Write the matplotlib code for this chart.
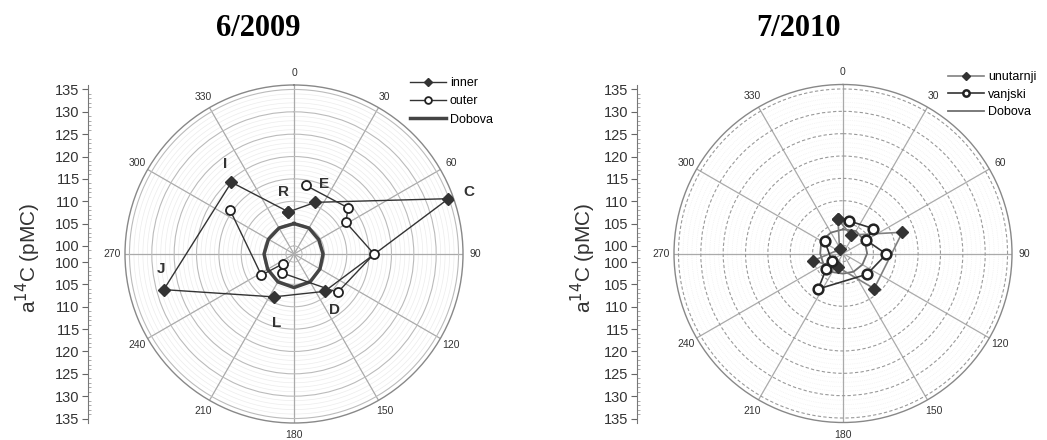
import numpy as np
import matplotlib
matplotlib.use("Agg")
import matplotlib.pyplot as plt

plt.rcParams['font.family'] = ['Liberation Sans', 'DejaVu Sans']

# ---- data (angle in degrees, a14C in pMC) ----
sites_inner = ['R', 'E', 'C', 'D', 'L', 'J', 'I']

theta_inner_2009 = [352.5, 22.4, 70.3, 140.7, 205.2, 254.7, 318.9]
inner_2009 = [107.7, 110.7, 134.9, 109.0, 108.8, 128.4, 119.5]
theta_outer_2009 = [9.5, 49.5, 58.6, 90.0, 131.3, 211.7, 228.5, 237.0, 304.4]
outer_2009 = [113.8, 114.1, 111.8, 116.1, 111.2, 103.2, 101.5, 106.9, 115.5]

theta_inner_2010 = [351.7, 23.6, 70.3, 138.4, 199.7, 256.3, 320.0]
inner_2010 = [105.9, 102.7, 112.3, 108.7, 101.5, 105.1, 99.4]
theta_outer_2010 = [11.0, 50.8, 60.3, 90.9, 130.7, 215.0, 227.3, 236.3, 304.0]
outer_2010 = [105.6, 107.0, 104.2, 107.9, 105.3, 107.9, 103.3, 101.2, 103.1]

theta_dobova = [0, 30, 60, 90, 120, 150, 180, 210, 240, 270, 300, 330]
dobova_2009 = [105.0, 104.9, 104.6, 104.7, 104.9, 105.4, 105.7, 105.4, 105.0, 104.9, 104.8, 104.9]
dobova_2010 = [103.6, 104.0, 103.8, 103.6, 103.2, 102.9, 102.7, 103.0, 103.2, 103.3, 103.8, 103.6]

# label offsets (pixels) for site letters on 2009 chart
label_offsets = [(-5, 20), (9, 18), (20, 7), (10, -19), (3, -26), (-3, 21), (-6, 18)]

scale_ticks = [100, 105, 110, 115, 120, 125, 130, 135]
angle_ticks = list(range(0, 360, 30))

R0, RMAX = 98.2, 136.0
W, H = 1047, 440


def rect(x0, y0, x1, y1):
    return [x0 / W, 1 - y1 / H, (x1 - x0) / W, (y1 - y0) / H]


def closed(t, r):
    return list(t) + [t[0]], list(r) + [r[0]]


def setup_polar(ax, dashed):
    ax.set_theta_zero_location('N')
    ax.set_theta_direction(-1)
    ax.set_ylim(R0, RMAX)
    ax.set_yticks(scale_ticks)
    ax.set_yticklabels([])
    ax.set_xticks(np.deg2rad(angle_ticks))
    ax.set_xticklabels([str(a) for a in angle_ticks], fontsize=7.5, color='#333333')
    ax.set_xticks(np.deg2rad([a for a in range(0, 360, 10) if a % 30]), minor=True)
    ax.tick_params(axis='x', which='major', pad=2, length=0)
    ax.tick_params(axis='x', which='minor', length=4, direction='in', color='#999999', width=0.8)
    ax.xaxis.grid(True, color='#aaaaaa', lw=0.9, ls='-')
    if dashed:
        ax.yaxis.grid(True, color='#9a9a9a', lw=0.8, ls=(0, (3, 2)))
    else:
        ax.yaxis.grid(True, color='#bbbbbb', lw=0.8, ls='-')
    # faint minor circles
    tt = np.linspace(0, 2 * np.pi, 361)
    for v in range(99, 136):
        if v % 5:
            ax.plot(tt, np.full_like(tt, v), color='#ececec', lw=0.5,
                    ls=':' if dashed else '-', zorder=0.5)
    ax.spines['polar'].set_color('#888888')
    ax.spines['polar'].set_linewidth(1.0)


def setup_scale(x):
    sa = fig.add_axes(rect(x, 85, x + 10, 423))
    sa.set_ylim(-(RMAX - R0), RMAX - R0)
    pos = [v - R0 for v in scale_ticks] + [-(v - R0) for v in scale_ticks]
    sa.set_yticks(pos)
    sa.set_yticklabels([str(v) for v in scale_ticks] * 2, fontsize=10.5, color='#333333')
    minor = [v - R0 for v in range(99, 136)] + [-(v - R0) for v in range(99, 136)]
    sa.set_yticks(minor, minor=True)
    sa.tick_params(axis='y', which='major', direction='out', length=4, width=0.8,
                   color='#666666', pad=2)
    sa.tick_params(axis='y', which='minor', direction='in', length=2.5, width=0.5,
                   color='#888888')
    sa.set_xticks([])
    for s in ['top', 'right', 'bottom']:
        sa.spines[s].set_visible(False)
    sa.spines['left'].set_color('#777777')
    sa.spines['left'].set_linewidth(0.8)
    sa.patch.set_alpha(0)


fig = plt.figure(figsize=(W / 100, H / 100), dpi=100)

# ---------- 6/2009 ----------
ax1 = fig.add_axes(rect(125, 85, 463, 423), projection='polar')
setup_polar(ax1, dashed=False)
t, r = closed(np.deg2rad(theta_inner_2009), inner_2009)
l1, = ax1.plot(t, r, color='#333333', lw=1.0, marker='D', ms=6, mfc='#333333',
               mec='#333333', zorder=4, label='inner')
l2, = ax1.plot(np.deg2rad(theta_outer_2009), outer_2009, color='#333333', lw=1.0,
               marker='o', ms=6.5, mfc='white', mec='#222222', mew=1.3, zorder=5,
               label='outer')
t, r = closed(np.deg2rad(theta_dobova), dobova_2009)
l3, = ax1.plot(t, r, color='#444444', lw=2.5, zorder=3, label='Dobova')
for name, th, rv, off in zip(sites_inner, theta_inner_2009, inner_2009, label_offsets):
    ax1.annotate(name, (np.deg2rad(th), rv), xytext=off, textcoords='offset pixels',
                 ha='center', va='center', fontsize=11, fontweight='bold', color='#333333')
ax1.legend(handles=[l1, l2, l3], loc='upper left', bbox_to_anchor=(410 / W, 1 - 77 / H),
           bbox_transform=fig.transFigure, frameon=False, fontsize=9, handlelength=2.9,
           handletextpad=0.3, labelspacing=0.5, borderpad=0, borderaxespad=0,
           markerscale=0.75)

setup_scale(88)
fig.text(28 / W, 1 - 258 / H, r'a$^{14}$C (pMC)', rotation=90, ha='center', va='center',
         fontsize=15, color='#333333')
fig.text(258 / W, 1 - 29 / H, '6/2009', ha='center', va='center', fontsize=22,
         fontweight='bold', family='Liberation Serif')

# ---------- 7/2010 ----------
ax2 = fig.add_axes(rect(674, 84.5, 1012, 422.5), projection='polar')
setup_polar(ax2, dashed=True)
t, r = closed(np.deg2rad(theta_inner_2010), inner_2010)
m1, = ax2.plot(t, r, color='#808080', lw=1.2, marker='D', ms=6.5, mfc='#333333',
               mec='#333333', zorder=4, label='unutarnji')
m2, = ax2.plot(np.deg2rad(theta_outer_2010), outer_2010, color='#333333', lw=1.2,
               marker='o', ms=7, mfc='white', mec='#222222', mew=1.8, zorder=5,
               label='vanjski')
t, r = closed(np.deg2rad(theta_dobova), dobova_2010)
m3, = ax2.plot(t, r, color='#707070', lw=1.3, zorder=3, label='Dobova')
ax2.legend(handles=[m1, m2, m3], loc='upper left', bbox_to_anchor=(948 / W, 1 - 71 / H),
           bbox_transform=fig.transFigure, frameon=False, fontsize=9, handlelength=2.9,
           handletextpad=0.3, labelspacing=0.45, borderpad=0, borderaxespad=0,
           markerscale=0.65)

setup_scale(637)
fig.text(583 / W, 1 - 258 / H, r'a$^{14}$C (pMC)', rotation=90, ha='center', va='center',
         fontsize=15, color='#333333')
fig.text(798 / W, 1 - 29 / H, '7/2010', ha='center', va='center', fontsize=22,
         fontweight='bold', family='Liberation Serif')

fig.savefig('out.png', dpi=100)
